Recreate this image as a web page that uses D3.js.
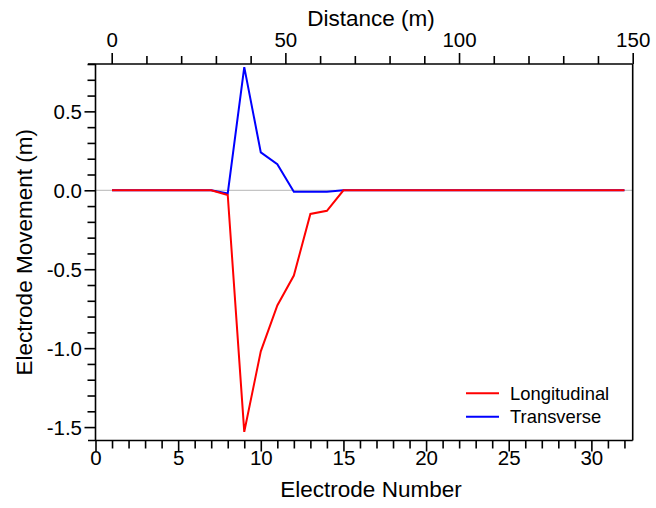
<!DOCTYPE html>
<html>
<head>
<meta charset="utf-8">
<script src="https://cdn.jsdelivr.net/npm/d3@7"></script>
<style>
  html, body { margin: 0; padding: 0; background: #fff; }
  svg { display: block; font-family: "Liberation Sans", Arial, sans-serif; }
</style>
</head>
<body>
<svg id="chart" width="656" height="508"></svg>
<script>
// Electrode positions along the line
const electrodes = [1, 2, 3, 4, 5, 6, 7, 8, 9, 10, 11, 12, 13, 14, 15, 16,
                    17, 18, 19, 20, 21, 22, 23, 24, 25, 26, 27, 28, 29, 30, 31, 32];

// Movement of each electrode (m)
const longitudinal = [0, 0, 0, 0, 0, 0, 0, -0.03, -1.53, -1.02, -0.73, -0.54, -0.15, -0.13, 0, 0,
                      0, 0, 0, 0, 0, 0, 0, 0, 0, 0, 0, 0, 0, 0, 0, 0];
const transverse = [0, 0, 0, 0, 0, 0, 0, -0.02, 0.78, 0.24, 0.165, -0.01, -0.01, -0.01, 0, 0,
                    0, 0, 0, 0, 0, 0, 0, 0, 0, 0, 0, 0, 0, 0, 0, 0];

const seriesNames = ["Longitudinal", "Transverse"];
const seriesColors = ["#ff0000", "#0000ff"];

// Axis tick values
const electrodeMajorTicks = [0, 5, 10, 15, 20, 25, 30];
const distanceMajorTicks = [0, 50, 100, 150];
const movementMajorTicks = [-1.5, -1.0, -0.5, 0.0, 0.5];

const svg = d3.select("#chart");
const plotLeft = 95.5, plotRight = 632.7, plotTop = 64, plotBottom = 440.5;

const x = d3.scaleLinear().domain([0, 32.5]).range([plotLeft, plotRight]);
const xTop = d3.scaleLinear().domain([0, 150]).range([111.7, plotRight]);
const y = d3.scaleLinear().domain([-1.585, 0.8]).range([plotBottom, plotTop]);

const axisColor = "#000";
const tickFont = 20.5;
const titleFont = 22.5;
const majorLen = 11, minorLen = 8;
const isMajorY = d => movementMajorTicks.some(m => Math.abs(m - d) < 1e-9);

// Zero reference line
svg.append("line")
  .attr("x1", plotLeft).attr("x2", plotRight)
  .attr("y1", y(0)).attr("y2", y(0))
  .attr("stroke", "#c4c4c4").attr("stroke-width", 1.2);

// Data lines (transverse underneath, longitudinal on top)
const line = d3.line().x((d, i) => x(electrodes[i])).y(d => y(d));
[[transverse, seriesColors[1]], [longitudinal, seriesColors[0]]].forEach(([vals, col]) => {
  svg.append("path")
    .attr("d", line(vals))
    .attr("fill", "none")
    .attr("stroke", col)
    .attr("stroke-width", 2)
    .attr("stroke-linejoin", "miter");
});

// Frame / axis lines
const frame = svg.append("g").attr("stroke", axisColor).attr("stroke-width", 1.6).attr("fill", "none");
frame.append("line").attr("x1", plotLeft - 7.5).attr("x2", plotRight).attr("y1", plotTop).attr("y2", plotTop);
frame.append("line").attr("x1", plotLeft - 7.5).attr("x2", plotRight).attr("y1", plotBottom).attr("y2", plotBottom);
frame.append("line").attr("x1", plotLeft).attr("x2", plotLeft).attr("y1", plotTop).attr("y2", plotBottom);
frame.append("line").attr("x1", plotRight).attr("x2", plotRight).attr("y1", plotTop).attr("y2", plotBottom);

// Bottom axis: electrode number
const bottomAxis = d3.axisBottom(x)
  .tickValues(d3.range(0, 33, 1))
  .tickSize(minorLen)
  .tickFormat(d => electrodeMajorTicks.includes(d) ? d3.format("d")(d) : "");
const gB = svg.append("g").attr("transform", `translate(0,${plotBottom})`).call(bottomAxis);
gB.select(".domain").remove();
gB.selectAll(".tick line")
  .attr("stroke-width", 1.6)
  .attr("y2", d => electrodeMajorTicks.includes(d) ? majorLen : minorLen);
gB.selectAll(".tick text")
  .attr("y", 24.5).attr("dy", 0)
  .attr("font-size", tickFont).attr("font-family", "Liberation Sans, Arial, sans-serif")
  .attr("fill", "#000");

// Top axis: distance
const topAxis = d3.axisTop(xTop)
  .tickValues(d3.range(0, 151, 10))
  .tickSize(minorLen)
  .tickFormat(d => distanceMajorTicks.includes(d) ? d3.format("d")(d) : "");
const gT = svg.append("g").attr("transform", `translate(0,${plotTop})`).call(topAxis);
gT.select(".domain").remove();
gT.selectAll(".tick line")
  .attr("stroke-width", 1.6)
  .attr("y2", d => distanceMajorTicks.includes(d) ? -majorLen : -minorLen);
gT.selectAll(".tick text")
  .attr("y", -17).attr("dy", 0)
  .attr("font-size", tickFont).attr("font-family", "Liberation Sans, Arial, sans-serif")
  .attr("fill", "#000");

// Left axis: movement
const minorY = d3.range(-15, 9, 1).map(v => v / 10);
const leftAxis = d3.axisLeft(y)
  .tickValues(minorY)
  .tickSize(minorLen)
  .tickFormat(d => isMajorY(d) ? d3.format(".1f")(d).replace("\u2212", "-") : "");
const gL = svg.append("g").attr("transform", `translate(${plotLeft},0)`).call(leftAxis);
gL.select(".domain").remove();
gL.selectAll(".tick line")
  .attr("stroke-width", 1.6)
  .attr("x2", d => isMajorY(d) ? -majorLen : -minorLen);
gL.selectAll(".tick text")
  .attr("x", -13.5).attr("dy", "0.35em")
  .attr("font-size", tickFont).attr("font-family", "Liberation Sans, Arial, sans-serif")
  .attr("fill", "#000");

// Axis titles
svg.append("text")
  .attr("x", 371).attr("y", 497)
  .attr("text-anchor", "middle").attr("font-size", titleFont)
  .text("Electrode Number");
svg.append("text")
  .attr("x", 371).attr("y", 26)
  .attr("text-anchor", "middle").attr("font-size", titleFont)
  .text("Distance (m)");
svg.append("text")
  .attr("transform", `translate(32,${(plotTop + plotBottom) / 2}) rotate(-90)`)
  .attr("text-anchor", "middle").attr("font-size", titleFont)
  .text("Electrode Movement (m)");

// Legend
const legend = svg.append("g");
seriesNames.forEach((name, i) => {
  const ly = 393.3 + i * 23.4;
  legend.append("line")
    .attr("x1", 466).attr("x2", 499)
    .attr("y1", ly).attr("y2", ly)
    .attr("stroke", seriesColors[i]).attr("stroke-width", 2);
  legend.append("text")
    .attr("x", 510).attr("y", ly + 6.3)
    .attr("font-size", 18.4)
    .text(name);
});
</script>
</body>
</html>
